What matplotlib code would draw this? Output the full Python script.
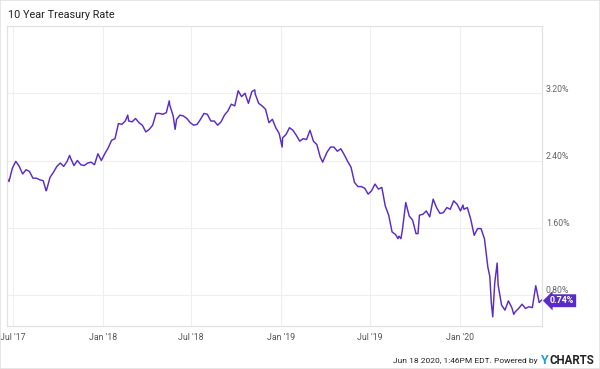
import numpy as np
import pandas as pd
import matplotlib
matplotlib.use("Agg")
import matplotlib.pyplot as plt
import matplotlib.dates as mdates

plt.rcParams['font.family'] = ['Roboto', 'DejaVu Sans']

# weekly (Friday) closes, %
rates_2017 = [2.15, 2.31, 2.39, 2.33, 2.24, 2.29, 2.27, 2.19, 2.19, 2.17, 2.16, 2.05, 2.20, 2.26,
              2.33, 2.37, 2.33, 2.39, 2.43, 2.34, 2.40, 2.35, 2.34, 2.37, 2.38, 2.35, 2.48, 2.40]
rates_2018 = [2.48, 2.55, 2.64, 2.66, 2.84, 2.83, 2.87, 2.87, 2.86, 2.90, 2.85, 2.82, 2.74,
              2.77, 2.82, 2.96, 2.96, 2.95, 2.97, 3.06, 2.93, 2.89, 2.94, 2.93, 2.90, 2.85,
              2.82, 2.83, 2.89, 2.96, 2.95, 2.87, 2.87, 2.82, 2.86, 2.94, 2.99, 3.07, 3.05,
              3.23, 3.16, 3.20, 3.08, 3.22, 3.19, 3.08, 3.05, 3.01, 2.85, 2.89, 2.79, 2.72]
rates_2019 = [2.67, 2.71, 2.79, 2.76, 2.70, 2.63, 2.66, 2.65, 2.76, 2.63, 2.59, 2.44, 2.41,
              2.50, 2.56, 2.56, 2.51, 2.54, 2.47, 2.39, 2.32, 2.14, 2.09, 2.09, 2.07, 2.00,
              2.04, 2.12, 2.06, 2.08, 1.86, 1.75, 1.55, 1.52, 1.50, 1.57, 1.90, 1.74, 1.69,
              1.53, 1.75, 1.76, 1.80, 1.73, 1.94, 1.84, 1.77, 1.78, 1.84, 1.82, 1.92, 1.88]
rates_2020 = [1.80, 1.82, 1.84, 1.70, 1.51, 1.59, 1.59, 1.47, 1.13, 0.71, 0.94, 0.92,
              0.68, 0.62, 0.73, 0.65, 0.60, 0.64, 0.69, 0.64, 0.66, 0.65, 0.91, 0.71]

# daily highs / lows between the weekly closes
extra_dates = ["2017-06-19", "2017-09-07", "2017-10-25", "2018-02-21", "2018-05-17",
               "2018-05-29", "2018-11-08", "2019-01-03", "2019-03-27", "2019-08-28",
               "2019-09-03", "2019-10-08", "2020-01-08", "2020-03-03", "2020-03-09",
               "2020-03-18", "2020-04-21", "2020-06-17"]
extra_rates = [2.19, 2.04, 2.46, 2.94, 3.11, 2.77, 3.24, 2.56, 2.38, 1.47, 1.47, 1.53,
               1.87, 1.02, 0.54, 1.18, 0.57, 0.74]

y_ticks = [0.8, 1.6, 2.4, 3.2]
x_ticks = ["2017-07-01", "2018-01-01", "2018-07-01", "2019-01-01", "2019-07-01", "2020-01-01"]
x_labels = ["Jul '17", "Jan '18", "Jul '18", "Jan '19", "Jul '19", "Jan '20"]

weeks = pd.date_range("2017-06-23", "2020-06-12", freq="W-FRI")
s = pd.Series(rates_2017 + rates_2018 + rates_2019 + rates_2020, index=weeks)
s = pd.concat([s, pd.Series(extra_rates, index=pd.to_datetime(extra_dates))]).sort_index()

purple = "#5b2bc9"
grid = "#efefef"

fig = plt.figure(figsize=(6, 3.69), dpi=100)
fig.patches.append(plt.Rectangle((0, 0), 1, 1, transform=fig.transFigure,
                                 fill=False, edgecolor="#e2e2e2", lw=1.2))
ax = fig.add_axes([0.0117, 0.1165, 0.891, 0.813])

ax.plot(s.index, s.values, color=purple, lw=1.05)
ax.set_xlim(s.index[0], s.index[-1])
ax.set_ylim(0.431, 4.0)

ax.set_xticks(pd.to_datetime(x_ticks))
ax.set_xticklabels(x_labels, fontsize=6.3, color="#555555")
ax.set_yticks(y_ticks)
ax.set_yticklabels([])
ax.tick_params(length=0, pad=5)
ax.grid(True, color=grid, lw=0.8)
for sp in ax.spines.values():
    sp.set_color("#e2e2e2")
    sp.set_linewidth(0.9)

for v in y_ticks:
    ax.annotate("%.2f%%" % v, xy=(1, v), xycoords=("axes fraction", "data"),
                xytext=(3, 3), textcoords="offset points", fontsize=6.3,
                color="#666666", va="center", ha="left")

ax.annotate("%.2f%%" % s.values[-1], xy=(1, s.values[-1]), xycoords=("axes fraction", "data"),
            xytext=(6, -0.5), textcoords="offset points", fontsize=6.4, color="white",
            fontweight="bold", va="center", ha="left",
            bbox=dict(boxstyle="larrow,pad=0.22", fc=purple, ec="none"))

fig.text(8 / 600, 1 - 15 / 369, "10 Year Treasury Rate", fontsize=7.8, color="#222222",
         va="center", ha="left")

fig.text(538 / 600, 1 - 361 / 369, "Jun 18 2020, 1:46PM EDT. Powered by", fontsize=6,
         color="#222222", va="center", ha="right")
fig.text(540 / 600, 1 - 360 / 369, "Y", fontsize=9, color="#1c9fe0", fontweight="bold",
         va="center", ha="left")
fig.text(549 / 600, 1 - 360 / 369, "CHARTS", fontsize=8.3, color="#222222",
         fontweight="bold", va="center", ha="left")

fig.savefig("out.png", dpi=100)
